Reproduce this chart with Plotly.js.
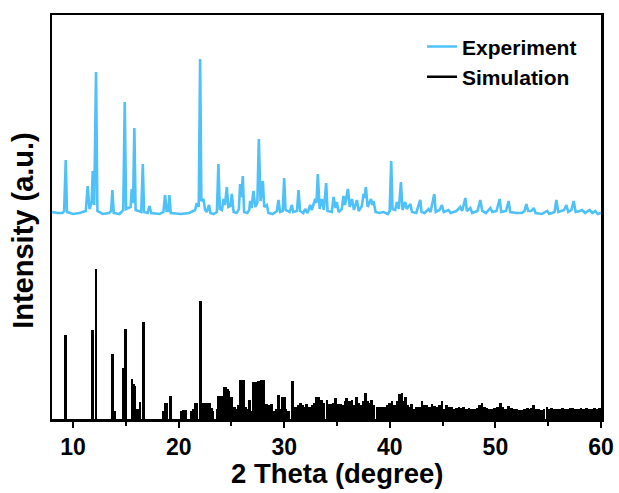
<!DOCTYPE html>
<html>
<head>
<meta charset="utf-8">
<script src="https://cdn.plot.ly/plotly-3.0.1.min.js"></script>
<style>
  html, body { margin: 0; padding: 0; background: #ffffff; }
  #chart { width: 619px; height: 493px; }
</style>
</head>
<body>
<div id="chart"></div>
<script>
// Measured powder pattern (2θ in degrees, intensity in arbitrary units)
const expTheta = [
  8.0, 8.5, 9.0, 9.15, 9.30, 9.42, 10.0, 10.6, 11.2, 11.38, 11.55, 11.75, 11.86, 12.0, 12.17, 12.3,
  12.8, 13.4, 13.6, 13.72, 13.85, 14.4, 14.75, 14.89, 15.02, 15.45, 15.55, 15.68, 15.80, 15.92,
  16.45, 16.60, 16.72, 17.05, 17.23, 17.4, 18.2, 18.55, 18.71, 18.85, 19.0, 19.12, 19.25, 20.2,
  21.0, 21.55, 21.71, 21.9, 22.03, 22.15, 22.34, 22.5, 22.65, 22.88, 23.0, 23.3, 23.62, 23.76,
  23.9, 24.1, 24.24, 24.38, 24.56, 24.7, 24.9, 25.03, 25.2, 25.5, 25.7, 25.82, 25.95, 26.07,
  26.2, 26.5, 26.68, 26.77, 26.9, 27.08, 27.25, 27.45, 27.59, 27.75, 27.97, 28.1, 28.35, 28.5,
  28.9, 29.3, 29.45, 29.6, 29.85, 29.99, 30.12, 30.5, 30.72, 30.85, 31.2, 31.35, 31.5, 31.8,
  31.98, 32.2, 32.45, 32.6, 32.93, 33.05, 33.18, 33.35, 33.56, 33.75, 33.97, 34.1, 34.5, 34.67,
  34.85, 34.98, 35.15, 35.45, 35.61, 35.75, 36.03, 36.2, 36.41, 36.6, 36.88, 37.05, 37.35, 37.51,
  37.6, 37.73, 37.9, 38.21, 38.35, 38.45, 38.65, 39.0, 39.4, 39.8, 39.98, 40.13, 40.25, 40.5,
  40.67, 40.85, 41.05, 41.2, 41.46, 41.6, 41.94, 42.1, 42.5, 42.88, 43.0, 43.3, 43.67, 43.85,
  44.21, 44.35, 44.7, 44.93, 45.1, 45.56, 45.75, 46.3, 46.67, 46.85, 47.15, 47.3, 47.62, 47.8,
  48.3, 48.57, 48.75, 49.1, 49.52, 49.7, 50.1, 50.4, 50.55, 51.0, 51.25, 51.4, 52.0, 52.5,
  52.75, 52.93, 53.1, 53.4, 53.63, 53.8, 54.4, 54.89, 55.1, 55.6, 55.77, 55.95, 56.5, 56.72,
  56.9, 57.2, 57.41, 57.6, 58.0, 58.2, 58.5, 58.75, 58.92, 59.2, 59.46, 59.7, 60.0
];
const expIntensity = [
  3, 2, 2, 4, 55, 3, 1, 2, 4, 29, 6, 12, 44, 10, 143, 4,
  1, 2, 4, 25, 2, 1, 5, 113, 6, 8, 26, 12, 87, 5,
  3, 51, 3, 2, 9, 2, 1, 3, 20, 4, 4, 20, 2, 1,
  2, 5, 12, 8, 156, 14, 16, 5, 3, 10, 2, 1, 3, 51,
  6, 5, 16, 10, 28, 8, 9, 21, 3, 2, 6, 31, 18, 39,
  3, 2, 5, 14, 7, 24, 8, 12, 76, 14, 34, 8, 10, 2,
  1, 4, 15, 3, 4, 37, 5, 3, 10, 3, 4, 25, 4, 2,
  6, 2, 10, 5, 16, 12, 41, 6, 16, 5, 32, 4, 3, 18,
  7, 13, 3, 6, 19, 10, 26, 8, 16, 5, 15, 4, 9, 21,
  17, 28, 8, 16, 10, 14, 3, 2, 3, 1, 4, 54, 6, 5,
  13, 6, 33, 5, 13, 6, 11, 3, 2, 15, 3, 2, 6, 3,
  21, 3, 5, 10, 3, 5, 2, 4, 8, 4, 17, 4, 7, 2,
  4, 15, 4, 2, 7, 3, 4, 16, 3, 4, 14, 3, 2, 2,
  4, 11, 4, 4, 7, 2, 1, 4, 1, 3, 15, 3, 5, 10,
  3, 5, 14, 3, 4, 5, 2, 4, 5, 2, 4, 1, 2
];

// Calculated reflections from the single-crystal structure
const simTheta = [
  9.30, 11.86, 12.17, 13.75, 13.91, 14.76, 14.95, 15.58, 15.70, 15.83, 16.09, 16.34, 16.63,
  18.55, 18.71, 18.85, 19.19, 20.29, 20.45, 20.61, 21.25, 21.39, 21.55, 21.71, 22.06, 22.25,
  22.41, 22.60, 22.88, 23.07, 23.20, 23.65, 23.77, 23.92, 24.08, 24.33, 24.45, 24.62, 24.72,
  24.85, 25.03, 25.30, 25.50, 25.70, 25.82, 25.98, 26.14, 26.35, 26.50, 26.70, 26.85, 27.08,
  27.20, 27.40, 27.55, 27.70, 27.88, 28.03, 28.20, 28.35, 28.55, 28.82, 29.00, 29.30, 29.45,
  29.60, 29.85, 29.99, 30.15, 30.40, 30.78, 30.95, 31.19, 31.35, 31.51, 31.70, 31.95, 32.14,
  32.35, 32.62, 32.85, 33.09, 33.25, 33.40, 33.56, 33.75, 34.04, 34.25, 34.51, 34.70, 34.89,
  35.10, 35.30, 35.50, 35.75, 35.93, 36.15, 36.41, 36.60, 36.88, 37.05, 37.30, 37.50, 37.67,
  37.85, 38.05, 38.30, 38.50, 38.80, 39.09, 39.30, 39.56, 39.80, 40.00, 40.20, 40.45, 40.70,
  40.92, 41.15, 41.30, 41.46, 41.70, 41.90, 42.09, 42.35, 42.55, 42.80, 43.04, 43.25, 43.50,
  43.75, 43.99, 44.20, 44.45, 44.70, 44.94, 45.15, 45.35, 45.56, 45.80, 46.05, 46.30, 46.55,
  46.80, 46.99, 47.25, 47.50, 47.75, 48.00, 48.25, 48.50, 48.73, 48.95, 49.20, 49.45, 49.70,
  49.95, 50.20, 50.47, 50.70, 50.95, 51.25, 51.50, 51.75, 52.00, 52.25, 52.50, 52.75, 53.00,
  53.25, 53.45, 53.63, 53.85, 54.10, 54.35, 54.60, 54.89, 55.10, 55.35, 55.60, 55.85, 56.10,
  56.35, 56.60, 56.85, 57.10, 57.35, 57.60, 57.85, 58.10, 58.35, 58.60, 58.85, 59.10, 59.35,
  59.60, 59.85
];
const simIntensity = [
  84, 89, 150, 65, 8, 51, 90, 40, 35, 33, 10, 17, 97,
  8, 16, 16, 23, 8, 9, 9, 8, 10, 16, 16, 118, 16,
  16, 16, 16, 11, 8, 10, 23, 23, 23, 32, 32, 30, 28,
  10, 22, 12, 10, 14, 39, 39, 39, 12, 10, 19, 8, 37,
  12, 37, 38, 20, 39, 39, 15, 15, 14, 15, 8, 10, 24,
  10, 22, 22, 10, 8, 38, 12, 12, 14, 16, 14, 12, 15,
  12, 14, 16, 22, 22, 18, 19, 16, 19, 15, 15, 16, 21,
  15, 15, 14, 18, 21, 18, 19, 14, 22, 16, 14, 18, 26,
  18, 16, 19, 14, 12, 12, 12, 12, 14, 16, 18, 14, 18,
  25, 26, 18, 22, 14, 12, 15, 10, 12, 12, 18, 14, 14,
  12, 15, 13, 12, 14, 18, 10, 14, 12, 12, 10, 11, 12,
  11, 12, 10, 11, 10, 10, 11, 14, 16, 12, 11, 10, 10,
  11, 12, 16, 12, 10, 13, 11, 10, 10, 9, 9, 10, 11,
  10, 11, 14, 10, 10, 9, 10, 12, 10, 11, 10, 10, 10,
  11, 10, 10, 11, 11, 10, 10, 11, 10, 11, 10, 10, 11,
  10, 11
];

// Vertical shift that stacks the measured pattern above the calculated one
const EXP_OFFSET = 204;

const tickVals = [10, 20, 30, 40, 50, 60];
const tickText = ['10', '20', '30', '40', '50', '60'];
const xTitle = '2 Theta (degree)';
const yTitle = 'Intensity (a.u.)';

const boldFont = (size) => ({ family: 'Arial, "Liberation Sans", sans-serif', size: size, color: '#000000', weight: 'bold' });

const traces = [
  {
    type: 'scatter',
    mode: 'lines',
    name: 'Experiment',
    x: expTheta,
    y: expIntensity.map(v => v + EXP_OFFSET),
    line: { color: '#4FC1F9', width: 2.6 },
    hoverinfo: 'x+y'
  },
  {
    type: 'bar',
    name: 'Simulation',
    x: simTheta,
    y: simIntensity,
    width: 0.27,
    marker: { color: '#000000', line: { width: 0 } },
    showlegend: false
  },
  {
    // legend entry for the calculated pattern drawn as a line sample
    type: 'scatter',
    mode: 'lines',
    name: 'Simulation',
    x: [null],
    y: [null],
    line: { color: '#000000', width: 2.6 }
  }
];

const layout = {
  width: 619,
  height: 493,
  margin: { l: 52, r: 18, t: 15, b: 74 },
  paper_bgcolor: '#ffffff',
  plot_bgcolor: '#ffffff',
  showlegend: true,
  legend: {
    x: 0.674,
    y: 0.972,
    xanchor: 'left',
    yanchor: 'top',
    bgcolor: 'rgba(0,0,0,0)',
    font: boldFont(21),
    itemwidth: 30,
    tracegroupgap: 0
  },
  xaxis: {
    range: [8, 60],
    tickmode: 'array',
    tickvals: tickVals,
    ticktext: tickText,
    ticks: 'outside',
    ticklen: 6,
    tickwidth: 2,
    tickcolor: '#000000',
    minor: { dtick: 5, tick0: 0, ticks: 'outside', ticklen: 4, tickwidth: 2, tickcolor: '#000000' },
    showline: true,
    linewidth: 2.5,
    linecolor: '#000000',
    mirror: true,
    showgrid: false,
    zeroline: false,
    tickfont: boldFont(23)
  },
  yaxis: {
    range: [0, 404],
    showticklabels: false,
    ticks: '',
    showline: true,
    linewidth: 2.5,
    linecolor: '#000000',
    mirror: true,
    showgrid: false,
    zeroline: false
  },
  annotations: [
    {
      // x-axis title
      text: xTitle,
      xref: 'paper', yref: 'paper',
      x: 0.519, y: -0.136,
      xanchor: 'center', yanchor: 'middle',
      showarrow: false,
      font: boldFont(27.5)
    },
    {
      // y-axis title
      text: yTitle,
      xref: 'paper', yref: 'paper',
      x: -0.053, y: 0.468,
      xanchor: 'center', yanchor: 'middle',
      textangle: -90,
      showarrow: false,
      font: boldFont(29)
    }
  ],
  bargap: 0
};

Plotly.newPlot('chart', traces, layout, { staticPlot: true, displayModeBar: false });
</script>
</body>
</html>
